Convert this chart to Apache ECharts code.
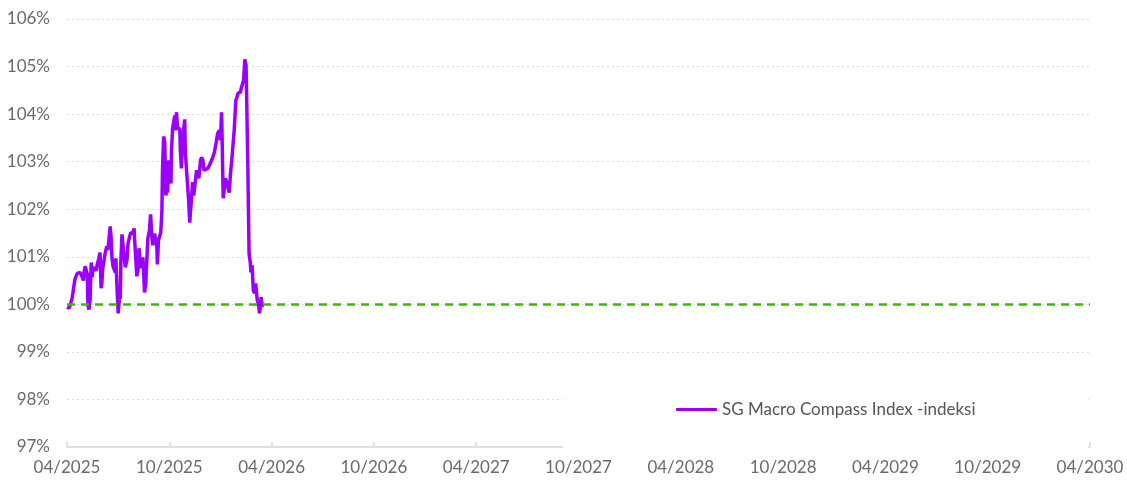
<!DOCTYPE html>
<html>
<head>
<meta charset="utf-8">
<script src="https://cdn.jsdelivr.net/npm/echarts@6/dist/echarts.min.js"></script>
<style>
html,body{margin:0;padding:0;background:#fff;}
#chart{width:1127px;height:481px;}
</style>
</head>
<body>
<div id="chart"></div>
<script>
const seriesName = 'SG Macro Compass Index -indeksi';
const dates = [
'2025-04-01','2025-04-05','2025-04-08','2025-04-10','2025-04-12','2025-04-15','2025-04-19','2025-04-24','2025-04-28','2025-04-30',
'2025-05-01','2025-05-03','2025-05-07','2025-05-08','2025-05-10','2025-05-12','2025-05-14','2025-05-16','2025-05-17','2025-05-23',
'2025-05-25','2025-05-28','2025-05-30','2025-06-01','2025-06-02','2025-06-04','2025-06-08','2025-06-11','2025-06-13','2025-06-15',
'2025-06-17','2025-06-19','2025-06-20','2025-06-22','2025-06-26','2025-06-27','2025-06-29','2025-07-01','2025-07-03','2025-07-05',
'2025-07-06','2025-07-08','2025-07-12','2025-07-14','2025-07-17','2025-07-19','2025-07-22','2025-07-24','2025-07-28','2025-07-30',
'2025-07-31','2025-08-04','2025-08-06','2025-08-08','2025-08-11','2025-08-15','2025-08-18','2025-08-20','2025-08-24','2025-08-27',
'2025-08-29','2025-08-31','2025-09-02','2025-09-05','2025-09-09','2025-09-10','2025-09-12','2025-09-16','2025-09-18','2025-09-19',
'2025-09-21','2025-09-23','2025-09-25','2025-09-27','2025-09-28','2025-09-30','2025-10-02','2025-10-04','2025-10-05','2025-10-07',
'2025-10-09','2025-10-11','2025-10-13','2025-10-14','2025-10-16','2025-10-20','2025-10-21','2025-10-23','2025-10-25','2025-10-29',
'2025-10-30','2025-11-01','2025-11-05','2025-11-07','2025-11-08','2025-11-10','2025-11-12','2025-11-14','2025-11-17','2025-11-19',
'2025-11-23','2025-11-26','2025-11-28','2025-11-30','2025-12-02','2025-12-05','2025-12-09','2025-12-12','2025-12-14','2025-12-18',
'2025-12-21','2025-12-23','2025-12-27','2025-12-30','2026-01-01','2026-01-03','2026-01-04','2026-01-06','2026-01-10','2026-01-13',
'2026-01-17','2026-01-19','2026-01-22','2026-01-26','2026-01-28','2026-01-29','2026-01-31','2026-02-02','2026-02-06','2026-02-07',
'2026-02-09','2026-02-11','2026-02-13','2026-02-15','2026-02-16','2026-02-18','2026-02-20','2026-02-22','2026-02-23','2026-02-25',
'2026-02-27','2026-03-01','2026-03-03','2026-03-04','2026-03-06','2026-03-08','2026-03-10','2026-03-12','2026-03-13','2026-03-15'
];
const values = [
99.94,99.92,99.96,100.13,100.29,100.53,100.65,100.67,100.57,100.50,
100.67,100.80,100.63,99.98,99.89,100.08,100.88,100.57,100.78,100.71,
100.84,100.97,101.09,100.34,100.40,100.76,101.07,101.22,101.14,101.39,
101.64,101.35,100.99,100.80,100.67,100.97,100.36,99.81,100.08,100.15,
100.93,101.47,100.99,100.78,100.93,101.28,101.43,101.51,101.49,101.60,
101.35,100.59,100.71,101.18,100.76,100.99,100.25,100.40,101.39,101.56,
101.89,101.45,101.24,101.49,101.24,100.84,101.35,101.51,101.98,102.82,
103.53,103.41,102.29,102.50,102.35,103.03,102.71,102.54,103.24,103.70,
103.74,103.97,103.66,104.04,103.70,103.70,103.28,102.86,103.45,103.89,
103.24,102.88,102.19,101.72,101.91,102.19,102.57,102.29,102.61,102.82,
102.65,103.03,103.09,103.03,102.82,102.78,102.86,102.92,102.96,103.09,
103.20,103.32,103.60,103.66,103.45,104.04,103.51,102.23,102.65,102.54,
102.35,102.71,103.09,103.66,104.08,104.29,104.35,104.44,104.46,104.54,
104.56,104.71,105.15,105.03,104.39,102.88,101.07,100.88,100.67,100.82,
100.29,100.23,100.44,100.46,100.08,100.02,99.81,99.98,100.15,99.94
];
const baseline = 100;
const yMin = 97, yMax = 106, yStep = 1;
const startYear = 2025, startMonth = 4;  // April 2025 = month 0
const xMonths = 60, xStepMonths = 6;

function toMonthIndex(s){
  const [y,m,d] = s.split('-').map(Number);
  const dim = new Date(y, m, 0).getDate();
  return (y - startYear) * 12 + (m - startMonth) + (d - 1) / dim;
}
function monthLabel(v){
  const total = startMonth - 1 + Math.round(v);
  const y = startYear + Math.floor(total / 12);
  const m = total % 12 + 1;
  return (m < 10 ? '0' + m : '' + m) + '/' + y;
}
const seriesData = dates.map((d, i) => [toMonthIndex(d), values[i]]);

const FONT = 'Lato';
const chart = echarts.init(document.getElementById('chart'), null, {renderer: 'canvas'});
chart.setOption({
  animation: false,
  backgroundColor: '#ffffff',
  grid: {left: 67, right: 37, top: 19, bottom: 34, containLabel: false},
  xAxis: {
    type: 'value', min: 0, max: xMonths, interval: xStepMonths,
    axisLine: {show: true, lineStyle: {color: '#e0e0e0', width: 2}},
    axisTick: {show: true, inside: true, length: 5, lineStyle: {color: '#e0e0e0', width: 2}},
    splitLine: {show: false},
    axisLabel: {formatter: monthLabel, color: '#6a6a6a', fontFamily: FONT, fontSize: 17, margin: 12}
  },
  yAxis: {
    type: 'value', min: yMin, max: yMax, interval: yStep,
    axisLine: {show: false}, axisTick: {show: false},
    splitLine: {show: true, lineStyle: {color: '#dcdcdc', type: [2, 3], width: 1}},
    axisLabel: {formatter: '{value}%', color: '#6a6a6a', fontFamily: FONT, fontSize: 17, margin: 17}
  },
  legend: {
    left: 676, top: 401, padding: 0, itemWidth: 41, itemHeight: 3, itemGap: 10,
    icon: 'roundRect',
    textStyle: {color: '#555', fontFamily: FONT, fontSize: 17},
    data: [seriesName], z: 10
  },
  graphic: [{
    type: 'rect', z: 5, silent: true,
    shape: {x: 563, y: 392, width: 525, height: 62},
    style: {fill: '#ffffff'}
  }],
  series: [{
    name: seriesName, type: 'line', data: seriesData,
    symbol: 'none', showSymbol: false,
    lineStyle: {color: '#9b00ff', width: 3.5}, itemStyle: {color: '#9b00ff'},
    z: 3,
    markLine: {
      silent: true, symbol: ['none', 'none'], label: {show: false},
      lineStyle: {color: '#47b30a', width: 2.5, type: [8, 6]},
      data: [{yAxis: baseline}]
    }
  }]
});
</script>
</body>
</html>
